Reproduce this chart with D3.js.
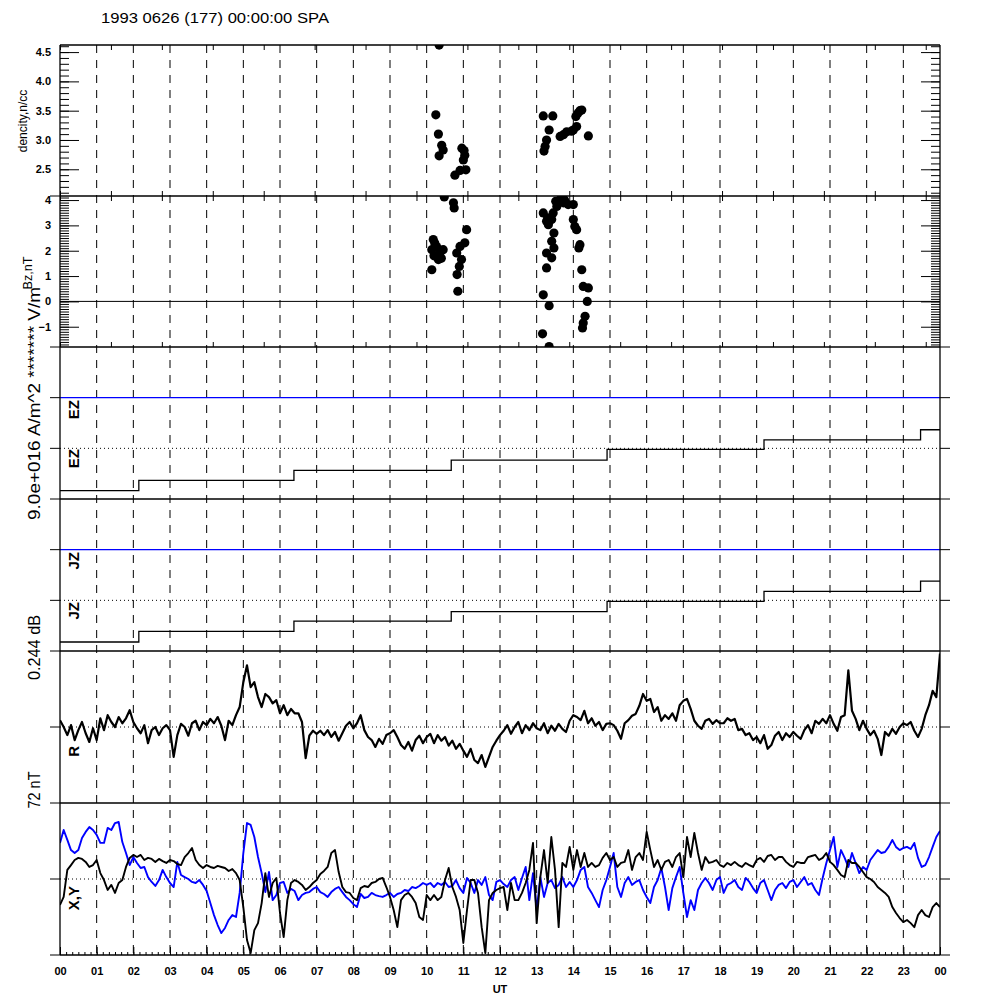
<!DOCTYPE html>
<html><head><meta charset="utf-8">
<script src="https://cdn.jsdelivr.net/npm/d3@7"></script>
<style>body{margin:0;background:#fff}svg{display:block}</style>
</head><body>
<svg id="c" width="1000" height="1000"></svg>
<script>
// ---------------- DATA ----------------
const titleText = "1993 0626 (177) 00:00:00 SPA";
const hourLabels = ["00","01","02","03","04","05","06","07","08","09","10","11","12","13","14","15","16","17","18","19","20","21","22","23","00"];
const sampleStepHours = 0.1;

// Panel 1: density (n/cc)
const densHours  = [10.34,10.25,10.32,10.41,10.45,10.34,11.02,11.04,11.00,11.07,10.91,10.77,10.96,13.18,13.44,13.34,13.27,13.23,13.20,14.23,14.13,14.07,14.09,14.00,13.82,13.73,13.64,14.41,13.95,14.18];
const densValues = [4.62,3.43,3.10,2.91,2.83,2.73,2.82,2.74,2.66,2.49,2.48,2.40,2.86,3.41,3.41,3.17,3.00,2.89,2.81,3.51,3.46,3.40,3.23,3.17,3.14,3.09,3.06,3.07,3.15,3.50];
const densTicks = [2.5,3.0,3.5,4.0,4.5];

// Panel 2: Bz (nT)
const bzHours  = [10.48,10.73,10.75,10.18,10.14,10.27,10.36,10.45,10.32,10.14,11.09,11.04,10.91,10.82,10.95,10.89,10.83,10.85,13.64,13.73,13.55,13.86,14.00,13.45,13.18,13.27,13.41,13.32,13.47,13.41,13.47,13.27,13.41,13.27,13.18,13.34,13.16,13.34,14.00,14.04,14.09,14.18,14.15,14.23,14.27,14.41,14.38,14.32,14.27,14.25,10.20,10.40,10.22,13.30,13.52,13.62,13.76];
const bzValues = [4.12,3.89,3.69,2.44,2.04,2.17,1.91,2.04,1.65,1.25,2.83,2.31,2.17,1.91,1.65,1.38,1.06,0.40,4.02,3.89,3.75,3.82,3.82,3.49,3.49,3.16,3.23,3.03,2.70,2.37,2.11,1.91,1.72,1.32,0.26,-0.17,-1.28,-1.78,3.23,2.96,2.83,2.24,2.11,1.25,0.59,0.53,0.00,-0.59,-0.85,-1.05,1.80,1.70,2.30,3.30,3.95,3.95,4.00];
const bzTicks = [-1,0,1,2,3,4];

// Panels 3 & 4: stacked EZ / JZ traces (1e16 A/m^2 units, 9.0 per section)
const stepHours   = [0,2.15,6.38,10.67,14.92,19.20,23.47,24];
const ezStepValues = [-7.5,-5.7,-3.9,-2.1,-0.2,1.5,3.3,3.3];
const jzStepValues = [-7.4,-5.5,-3.7,-2.0,-0.2,1.6,3.4,3.4];
const upperTraceValues = [0,0];
const upperTraceHours = [0,24];
const sectionOffsets = [9,0];

// Panel 5: R (dB), sampled every 0.1 h
const rDb = [
0.011,
0,-0.013,0.003,-0.021,-0.005,0.008,-0.010,-0.024,-0.002,-0.021,
0.014,-0.005,0.019,0.008,0,0.016,0.006,0.014,0.027,0.008,
-0.002,-0.010,0.003,-0.026,-0.005,0,-0.013,-0.002,0.003,-0.005,
-0.048,-0.013,0.005,0,-0.014,0.006,0.010,-0.005,0.008,0.003,
0.013,0.006,0.016,0.002,-0.021,0.010,0.003,0.019,0.032,0.072,
0.099,0.064,0.072,0.048,0.032,0.053,0.048,0.038,0.043,0.022,
0.035,0.019,0.029,0.022,0.022,0.008,-0.050,-0.014,-0.006,-0.011,
-0.006,-0.013,-0.005,-0.016,-0.008,-0.022,-0.010,0.002,0.008,-0.002,
0.006,0.019,-0.005,-0.016,-0.021,-0.032,-0.019,-0.027,-0.013,-0.010,
-0.005,-0.016,-0.029,-0.035,-0.024,-0.038,-0.021,-0.014,-0.026,-0.016,
-0.011,-0.026,-0.013,-0.022,-0.016,-0.030,-0.022,-0.035,-0.027,-0.038,
-0.048,-0.035,-0.053,-0.058,-0.045,-0.064,-0.048,-0.032,-0.022,-0.013,
-0.006,0.003,-0.011,0,0.008,-0.010,0.003,-0.005,0.006,-0.002,
-0.005,0.006,-0.010,0.002,-0.006,0.005,-0.003,-0.008,0.010,0.019,
0.016,0.011,0.026,0.006,0.014,0.002,0.008,-0.005,0.005,0.006,
0.003,-0.006,-0.019,0.006,0.011,0.018,0.021,0.034,0.053,0.042,
0.045,0.024,0.032,0.010,0.019,0.013,0.022,0.010,0.035,0.042,
0.045,0.029,0.010,0.002,-0.003,0.010,0.013,0.005,0.011,0.006,
0.006,0.014,0.010,0.013,-0.005,-0.003,-0.013,-0.010,-0.021,-0.016,
-0.026,-0.013,-0.035,-0.029,-0.014,-0.008,-0.021,-0.010,-0.016,-0.008,
-0.014,-0.019,-0.005,0.003,-0.010,0.010,0.005,0.013,0.006,0.019,
0.005,-0.006,0.016,0.019,0.091,0.026,0.013,-0.005,0.010,-0.003,
-0.013,-0.006,-0.019,-0.045,-0.008,-0.014,-0.003,-0.011,0,0.006,
0.003,0.008,-0.006,-0.016,-0.003,0.019,0.035,0.058,0.048,0.118
];

// Panel 6: X (black) and Y (blue), nT, sampled every 0.1 h
const xNT = [
-12.3,
-8.5,4.3,6.6,9.0,10.0,9.5,8.1,5.7,6.6,9.0,
2.8,-0.5,-5.2,-2.8,-6.6,-1.9,-0.5,5.7,10.0,11.4,
10.4,11.4,9.0,10.0,9.5,8.1,9.5,8.5,7.6,9.0,
8.5,7.1,6.6,10.4,12.3,14.7,9.0,6.6,5.2,6.6,
5.7,5.2,6.2,5.7,5.2,3.8,4.7,2.8,-0.5,-13.3,
-28.9,-35.1,-24.2,-20.9,-11.4,2.8,-8.5,-1.9,0.5,-16.1,
-27.5,-10.0,-1.9,-0.5,-1.4,-2.8,-5.2,-3.8,-1.9,-0.5,
2.4,3.8,5.7,12.3,13.7,3.3,-3.8,-6.2,-6.6,-9.0,
-10.0,-4.3,-3.3,-3.8,-1.9,-1.4,0,0.5,-3.8,-8.5,
-14.7,-22.8,-10.0,-7.6,-6.6,-8.5,-11.4,-18.0,-19.4,-7.6,
-10.0,-7.6,-10.0,-8.5,-0.5,5.2,-3.8,-8.5,-14.7,-30.3,
-14.7,-0.5,-0.5,-6.6,-22.8,-35.1,-10.0,-6.6,-5.2,-4.3,
-3.8,-14.7,-1.9,-10.0,-10.0,-6.6,-1.9,4.3,17.1,-20.9,
0.9,13.7,-1.9,19.9,4.3,-22.8,7.6,5.7,15.2,4.3,
13.7,5.7,12.3,5.7,7.6,5.7,6.6,10.0,12.3,9.0,
10.4,5.7,7.6,8.1,13.7,4.3,10.4,12.3,9.0,22.3,
13.7,5.7,9.0,4.3,8.1,9.0,5.7,10.4,12.3,0.9,
19.9,10.4,21.8,12.3,4.3,10.4,7.6,8.1,9.0,6.6,
5.7,7.6,6.6,8.1,6.6,5.7,7.6,6.6,5.7,9.0,
10.0,8.1,10.9,11.4,9.0,10.4,10.4,8.1,6.6,5.7,
8.1,7.6,7.6,10.4,10.9,11.4,9.0,10.0,12.3,8.1,
6.6,4.3,1.9,0.9,9.0,7.6,7.6,5.7,3.3,0.9,
0,-1.4,-3.8,-5.2,-6.6,-8.5,-13.3,-16.1,-18.5,-20.4,
-19.4,-20.9,-22.8,-17.1,-14.7,-17.1,-18.0,-13.3,-11.4,-13.3
];
const yNT = [
17.1,
23.2,18.5,13.7,12.3,13.7,19.4,22.3,24.6,23.2,20.9,
17.1,17.1,24.2,23.2,26.5,27.0,17.5,12.3,6.6,10.4,
7.6,5.2,5.7,0.9,-1.4,-3.3,-0.5,4.3,0.9,-1.9,
-3.8,8.1,1.9,0.9,0,-1.4,-1.9,-0.5,-2.8,-5.7,
-11.4,-17.1,-21.8,-25.6,-23.2,-19.4,-17.1,-18.0,-6.6,12.3,
26.5,25.6,19.9,10.4,2.8,-6.2,3.3,-10.0,-7.6,-1.9,
-1.4,-6.6,-4.7,-5.7,-10.0,-7.6,-6.6,-6.2,-4.7,-3.8,
-6.2,-7.1,-8.5,-6.2,-4.7,-3.8,-6.2,-8.5,-10.0,-11.9,
-13.3,-7.1,-9.0,-8.5,-6.6,-7.6,-8.1,-8.5,-7.6,-6.6,
-8.5,-7.1,-6.6,-5.2,-5.7,-3.8,-4.3,-3.3,-1.9,-2.8,
-1.9,-3.8,-1.9,-2.8,-1.4,-3.8,-3.3,-0.5,-4.3,-6.6,
0.5,-1.9,-6.6,-0.5,-2.8,0.9,-7.6,-10.0,-1.4,-0.5,
-2.4,-3.8,-0.5,0.9,-5.2,0.5,5.7,-10.0,2.8,-14.7,
0.9,-8.5,-1.9,-0.5,-4.3,-2.8,0.9,-3.8,-1.4,-3.8,
-0.5,4.3,5.7,-3.8,-6.6,-10.0,-13.3,-5.2,-0.5,5.7,
12.3,-3.8,-8.5,-1.9,0.9,-2.8,-1.4,-0.5,-5.2,-8.5,
-11.4,-3.8,-0.5,5.2,-3.8,-14.7,-4.3,0.9,5.7,-6.6,
-18.0,-10.0,-14.7,-5.2,-1.9,0.5,-1.9,-5.2,-0.5,0.9,
-6.6,-2.8,-1.9,-0.5,-3.8,-5.2,0.5,-1.4,-4.3,-6.6,
-1.9,-0.5,-5.2,-10.0,-5.2,-2.8,-1.9,-4.3,-1.4,-0.5,
-3.8,-1.4,0.9,-2.8,-1.9,-5.2,-7.6,0.5,7.6,13.7,
19.9,5.7,13.7,10.0,5.7,12.3,7.6,2.8,5.7,4.3,
9.0,11.4,13.7,12.3,12.8,15.2,18.5,15.2,13.7,14.7,
15.2,14.2,17.1,10.0,5.7,6.6,10.4,15.2,19.9,22.8
];

// ---------------- LAYOUT ----------------
const FONT = "'Liberation Sans', Arial, Helvetica, sans-serif";
const L = 60, R = 940;
const bounds = [45,196,347,499,651,803,955];
const svg = d3.select("#c");
svg.append("rect").attr("width",1000).attr("height",1000).attr("fill","#fff");

const x = d3.scaleLinear().domain([0,24]).range([L,R]);
const xSec = d3.scaleLinear().domain([0,86400]).range([L,R]);

const yDen = d3.scaleLinear().domain([2.044,4.621]).range([bounds[1],bounds[0]]);
const yBz  = d3.scaleLinear().domain([-1.8,4.16]).range([bounds[2],bounds[1]]);
const yEz  = d3.scaleLinear().domain([-9,18]).range([bounds[3],bounds[2]]);
const yJz  = d3.scaleLinear().domain([-9,18]).range([bounds[4],bounds[3]]);
const yR   = d3.scaleLinear().domain([-0.122,0.122]).range([bounds[5],bounds[4]]);
const yXY  = d3.scaleLinear().domain([-36,36]).range([bounds[6],bounds[5]]);

const defs = svg.append("defs");
for (let i=0;i<6;i++){
  defs.append("clipPath").attr("id","clip"+i).append("rect")
    .attr("x",L).attr("y",bounds[i]).attr("width",R-L).attr("height",bounds[i+1]-bounds[i]);
}

// dashed hour grid
const gridHours = d3.range(1,24);
svg.append("g").selectAll("line").data(gridHours).join("line")
  .attr("x1",d=>x(d)).attr("x2",d=>x(d)).attr("y1",bounds[0]).attr("y2",bounds[6])
  .attr("stroke","#000").attr("stroke-width",1).attr("stroke-dasharray","8,7");

function hline(y, color, dash, w){
  svg.append("line").attr("x1",L).attr("x2",R).attr("y1",y).attr("y2",y)
    .attr("stroke",color).attr("stroke-width",w||1).attr("stroke-dasharray",dash||null);
}
hline(yBz(0),"#000");
hline(yEz(sectionOffsets[1]),"#000","1,3");
hline(yJz(sectionOffsets[1]),"#000","1,3");
hline(yR(0),"#000","1,3");
hline(yXY(0),"#000","1,3");

// Panel 1 dots
svg.append("g").attr("clip-path","url(#clip0)").selectAll("circle")
  .data(densHours.map((h,i)=>[h,densValues[i]])).join("circle")
  .attr("cx",d=>x(d[0])).attr("cy",d=>yDen(d[1])).attr("r",4.6).attr("fill","#000");
// Panel 2 dots
svg.append("g").attr("clip-path","url(#clip1)").selectAll("circle")
  .data(bzHours.map((h,i)=>[h,bzValues[i]])).join("circle")
  .attr("cx",d=>x(d[0])).attr("cy",d=>yBz(d[1])).attr("r",4.6).attr("fill","#000");

function stepTrace(ys, hours, vals, offset, color, clip){
  const line = d3.line().curve(d3.curveStepAfter).x(d=>x(d[0])).y(d=>ys(d[1]+offset));
  svg.append("path").attr("clip-path",clip).datum(hours.map((h,i)=>[h,vals[i]]))
    .attr("d",line).attr("fill","none").attr("stroke",color).attr("stroke-width",1.3);
}
stepTrace(yEz, upperTraceHours, upperTraceValues, sectionOffsets[0], "#0000ff", "url(#clip2)");
stepTrace(yEz, stepHours, ezStepValues, sectionOffsets[1], "#000", "url(#clip2)");
stepTrace(yJz, upperTraceHours, upperTraceValues, sectionOffsets[0], "#0000ff", "url(#clip3)");
stepTrace(yJz, stepHours, jzStepValues, sectionOffsets[1], "#000", "url(#clip3)");

function series(ys, vals, color, clip, w){
  const line = d3.line().x((d,i)=>x(i*sampleStepHours)).y(d=>ys(d));
  svg.append("path").attr("clip-path",clip).datum(vals).attr("d",line)
    .attr("fill","none").attr("stroke",color).attr("stroke-width",w).attr("stroke-linejoin","round");
}
series(yR, rDb, "#000", "url(#clip4)", 2.2);
series(yXY, yNT, "#0000ff", "url(#clip5)", 1.9);
series(yXY, xNT, "#000", "url(#clip5)", 1.9);

// frame
svg.append("g").selectAll("line").data(bounds).join("line")
  .attr("x1",L).attr("x2",R).attr("y1",d=>d).attr("y2",d=>d).attr("stroke","#000").attr("stroke-width",1.3);
svg.append("line").attr("x1",L).attr("x2",L).attr("y1",bounds[0]).attr("y2",bounds[6]).attr("stroke","#000").attr("stroke-width",1.3);
svg.append("line").attr("x1",R).attr("x2",R).attr("y1",bounds[0]).attr("y2",bounds[6]).attr("stroke","#000").attr("stroke-width",1.3);

const sectionYs = [bounds[1],bounds[2],yEz(9),yEz(0),bounds[3],yJz(9),yJz(0),bounds[4],yR(0),bounds[5],yXY(0),bounds[6]];
svg.append("g").selectAll("line").data(sectionYs).join("line")
  .attr("x1",L-10).attr("x2",L).attr("y1",d=>d).attr("y2",d=>d).attr("stroke","#000");
svg.append("g").selectAll("line").data(sectionYs.slice(1)).join("line")
  .attr("x1",R).attr("x2",R+10).attr("y1",d=>d).attr("y2",d=>d).attr("stroke","#000");

function styleAxis(g){
  g.select(".domain").remove();
  g.selectAll("line").attr("stroke","#000");
  g.selectAll("text").attr("font-family",FONT).attr("font-weight","bold").attr("font-size",11).attr("fill","#000");
}
svg.append("g").attr("transform",`translate(${L},0)`)
  .call(d3.axisLeft(yDen).tickValues(densTicks).tickSizeInner(-19).tickSizeOuter(0).tickPadding(9).tickFormat(d3.format(".1f"))).call(styleAxis);
svg.append("g").attr("transform",`translate(${L},0)`)
  .call(d3.axisLeft(yDen).tickValues(d3.range(21,47).map(v=>v/10)).tickSizeInner(-9).tickSizeOuter(0).tickFormat("")).call(styleAxis);
svg.append("g").attr("transform",`translate(${R},0)`)
  .call(d3.axisRight(yDen).tickValues(densTicks).tickSizeInner(-19).tickSizeOuter(0).tickFormat("")).call(styleAxis);
svg.append("g").attr("transform",`translate(${R},0)`)
  .call(d3.axisRight(yDen).tickValues(d3.range(21,47).map(v=>v/10)).tickSizeInner(-9).tickSizeOuter(0).tickFormat("")).call(styleAxis);
svg.append("g").attr("transform",`translate(${L},0)`)
  .call(d3.axisLeft(yBz).tickValues(bzTicks).tickSizeInner(-19).tickSizeOuter(0).tickPadding(9).tickFormat(d3.format("d"))).call(styleAxis);
svg.append("g").attr("transform",`translate(${L},0)`)
  .call(d3.axisLeft(yBz).tickValues(d3.range(-17,42).map(v=>v/10)).tickSizeInner(-9).tickSizeOuter(0).tickFormat("")).call(styleAxis);
svg.append("g").attr("transform",`translate(${R},0)`)
  .call(d3.axisRight(yBz).tickValues(bzTicks).tickSizeInner(-19).tickSizeOuter(0).tickFormat("")).call(styleAxis);
svg.append("g").attr("transform",`translate(${R},0)`)
  .call(d3.axisRight(yBz).tickValues(d3.range(-17,42).map(v=>v/10)).tickSizeInner(-9).tickSizeOuter(0).tickFormat("")).call(styleAxis);

const secTicks = d3.range(0,86401,5000);
[[bounds[0],"b"],[bounds[1],"t"],[bounds[1],"b"],[bounds[2],"t"]].forEach(([y,dir])=>{
  const ax = dir==="b" ? d3.axisBottom(xSec) : d3.axisTop(xSec);
  svg.append("g").attr("transform",`translate(0,${y})`)
    .call(ax.tickValues(secTicks).tickSize(5).tickFormat("")).call(styleAxis);
});

const hourTicks = d3.range(0,25);
svg.append("g").attr("transform",`translate(0,${bounds[6]})`)
  .call(d3.axisTop(x).tickValues(hourTicks).tickSize(8).tickFormat("")).call(styleAxis);
svg.append("g").attr("transform",`translate(0,${bounds[6]})`)
  .call(d3.axisTop(x).tickValues(d3.range(0,145).map(v=>v/6)).tickSize(3).tickFormat("")).call(styleAxis);
svg.append("g").attr("transform",`translate(0,${bounds[6]})`)
  .call(d3.axisBottom(x).tickValues(hourTicks).tickSize(0).tickPadding(12).tickFormat(d=>hourLabels[d])).call(styleAxis);

svg.append("text").attr("x",101).attr("y",22.5).attr("font-family",FONT).attr("font-size",14)
  .attr("textLength",228).attr("lengthAdjust","spacingAndGlyphs").text(titleText);
svg.append("text").attr("x",500).attr("y",993).attr("text-anchor","middle").attr("font-family",FONT)
  .attr("font-weight","bold").attr("font-size",11).text("UT");

function vtext(t, xx, yy, size, anchor, opts){
  const el = svg.append("text").attr("transform",`translate(${xx},${yy}) rotate(-90)`)
    .attr("text-anchor",anchor).attr("font-family",FONT).attr("font-size",size).text(t);
  if (opts && opts.bold) el.attr("font-weight","bold");
  if (opts && opts.len) el.attr("textLength",opts.len).attr("lengthAdjust","spacingAndGlyphs");
  return el;
}
vtext("dencity,n/cc", 27, 121, 12, "middle");
vtext("9.0e+016 A/m^2  *******  V/m", 40, 403.5, 16, "middle", {len:233});
vtext("Bz,nT", 32, 273, 13, "middle", {len:33});
vtext("0.244 dB", 40, 647.5, 16, "middle", {len:65});
vtext("72 nT", 40, 790, 16, "middle", {len:37});
vtext("EZ", 79, 400, 15, "end", {bold:true});
vtext("EZ", 79, 449, 15, "end", {bold:true});
vtext("JZ", 79, 552, 15, "end", {bold:true});
vtext("JZ", 79, 602, 15, "end", {bold:true});
vtext("R", 79, 746, 15, "end", {bold:true});
vtext("X,Y", 79, 886, 15, "end", {bold:true});
</script>
</body></html>
